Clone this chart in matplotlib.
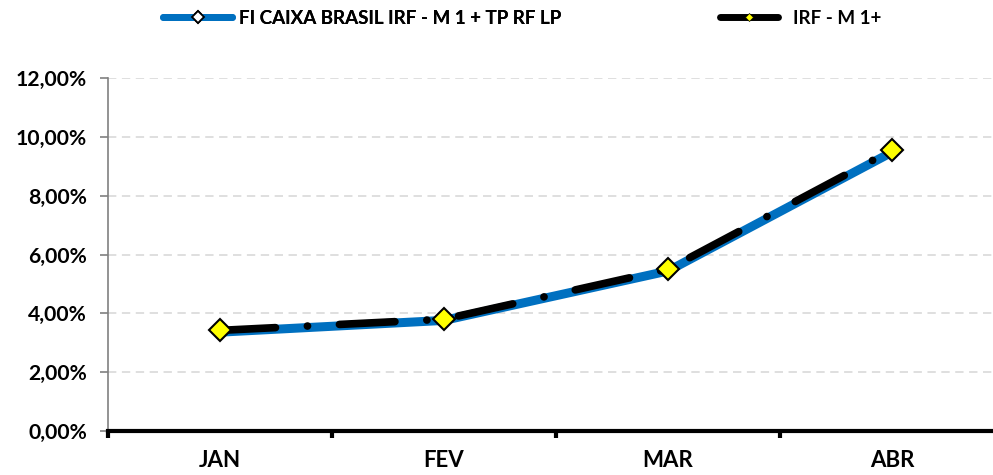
import numpy as np
import matplotlib
matplotlib.use('Agg')
import matplotlib.pyplot as plt
from matplotlib.lines import Line2D
from matplotlib.ticker import FuncFormatter, FixedLocator

# dados (% ao mes acumulado)
meses = ['JAN', 'FEV', 'MAR', 'ABR']
fundo = [3.36, 3.76, 5.44, 9.48]     # FI CAIXA BRASIL IRF - M 1 + TP RF LP
indice = [3.42, 3.80, 5.50, 9.55]    # IRF - M 1+
nome_fundo = 'FI CAIXA BRASIL IRF - M 1 + TP RF LP'
nome_indice = 'IRF - M 1+'

plt.rcParams['font.family'] = ['Lato', 'DejaVu Sans']
plt.rcParams['font.weight'] = 'bold'
plt.rcParams['lines.scale_dashes'] = False

W, H = 993, 475
fig = plt.figure(figsize=(W / 100, H / 100), dpi=100)
left, bottom, top = 108, 44, 397
ax = fig.add_axes([left / W, bottom / H, (W - left) / W, (top - bottom) / H])

x = np.arange(len(meses))
azul = '#0070c0'

ax.plot(x, fundo, color=azul, lw=6.5, solid_capstyle='round',
        marker='D', ms=5, mfc='white', mec='black', mew=1.2, zorder=3)
ax.plot(x, indice, color='black', lw=5.5, dash_capstyle='round',
        dashes=(40, 23, 0.1, 23), zorder=4)
ax.plot(x, indice, ls='none', marker='D', ms=11.5, mfc='#ffff00',
        mec='black', mew=1.5, zorder=5)

ax.set_xlim(-0.5, -0.5 + (W - left) / 224)
ax.set_ylim(0, 12)
ax.yaxis.set_major_locator(FixedLocator(np.arange(0, 12.1, 2)))
ax.yaxis.set_major_formatter(FuncFormatter(lambda v, p: f'{v:.2f}'.replace('.', ',') + '%'))
ax.grid(axis='y', color='#d9d9d9', lw=1.2, dashes=(6, 4))
ax.set_axisbelow(True)

ax.xaxis.set_major_locator(FixedLocator(np.arange(-0.5, 3.6, 1)))
ax.xaxis.set_major_formatter(FuncFormatter(lambda v, p: ''))
ax.set_xticks(x, minor=True)
ax.set_xticklabels(meses, minor=True)
ax.tick_params(axis='x', which='major', length=5, width=3, color='black', direction='out')
ax.tick_params(axis='x', which='minor', length=0, pad=14, labelsize=16)
ax.tick_params(axis='y', length=6, width=1.2, color='#808080', pad=9, labelsize=15.2)

for s in ['top', 'right']:
    ax.spines[s].set_visible(False)
ax.spines['left'].set_color('#808080')
ax.spines['left'].set_linewidth(1.2)
ax.spines['bottom'].set_color('black')
ax.spines['bottom'].set_linewidth(3)
ax.spines['bottom'].set_zorder(6)

h1 = Line2D([], [], color=azul, lw=5, solid_capstyle='round',
            marker='D', ms=6, mfc='white', mec='black', mew=1.3)
h2 = Line2D([], [], color='black', lw=5, solid_capstyle='round',
            marker='D', ms=4, mfc='#ffff00', mec='black', mew=0.5)
leg_kw = dict(frameon=False, borderpad=0, borderaxespad=0, loc='center left',
              prop={'size': 13.5, 'weight': 'bold'})
leg1 = fig.legend([h1], [nome_fundo], bbox_to_anchor=(163 / W, 1 - 18 / H),
                  handlelength=3.7, handletextpad=0.35, **leg_kw)
fig.legend([h2], [nome_indice], bbox_to_anchor=(720 / W, 1 - 18 / H),
           handlelength=3.1, handletextpad=0.8, **leg_kw)
fig.add_artist(leg1)

fig.savefig('out.png', dpi=100)
